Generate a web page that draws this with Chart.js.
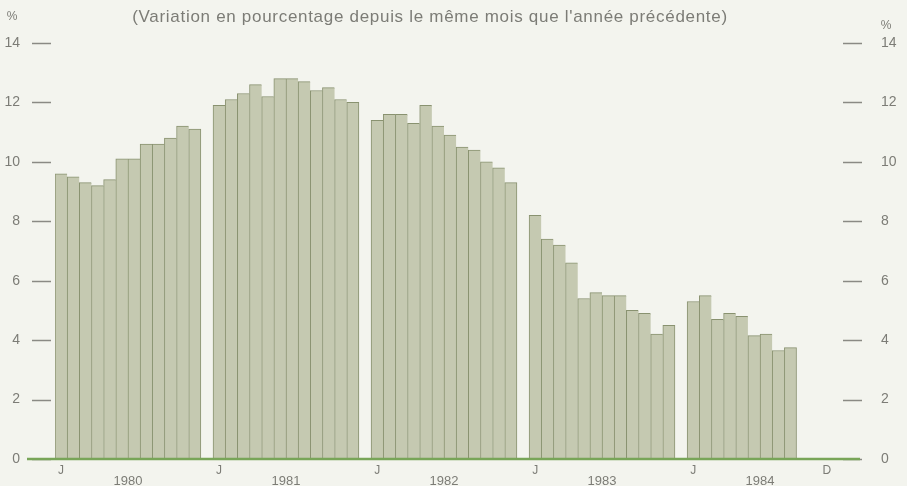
<!DOCTYPE html>
<html>
<head>
<meta charset="utf-8">
<script src="https://cdn.jsdelivr.net/npm/chart.js@4/dist/chart.umd.min.js"></script>
<style>
  body { margin: 0; background: #f3f4ee; }
  canvas { display: block; }
</style>
</head>
<body>
<canvas id="chart" width="907" height="486"></canvas>
<script>
// Data (percent change vs same month of previous year)
const years = ["1980", "1981", "1982", "1983", "1984"];
const monthLetters = ["J", "F", "M", "A", "M", "J", "J", "A", "S", "O", "N", "D"];
const values1980 = [9.6, 9.5, 9.3, 9.2, 9.4, 10.1, 10.1, 10.6, 10.6, 10.8, 11.2, 11.1];
const values1981 = [11.9, 12.1, 12.3, 12.6, 12.2, 12.8, 12.8, 12.7, 12.4, 12.5, 12.1, 12.0];
const values1982 = [11.4, 11.6, 11.6, 11.3, 11.9, 11.2, 10.9, 10.5, 10.4, 10.0, 9.8, 9.3];
const values1983 = [8.2, 7.4, 7.2, 6.6, 5.4, 5.6, 5.5, 5.5, 5.0, 4.9, 4.2, 4.5];
const values1984 = [5.3, 5.5, 4.7, 4.9, 4.8, 4.15, 4.2, 3.65, 3.75];
const yTicks = [0, 2, 4, 6, 8, 10, 12, 14];
const titleText = "(Variation en pourcentage depuis le même mois que l'année précédente)";

const yearValues = [values1980, values1981, values1982, values1983, values1984];

// one slot per month plus one empty slot between years
const labels = [];
const values = [];
const monthText = [];
const yearText = [];
years.forEach((yr, i) => {
  for (let m = 0; m < 12; m++) {
    labels.push(yr + " " + monthLetters[m]);
    const v = yearValues[i][m];
    values.push(v === undefined ? null : v);
    const last = i === years.length - 1;
    monthText.push(m === 0 || (last && m === 11) ? monthLetters[m] : "");
    yearText.push(m === 5 ? yr : "");
  }
  if (i < years.length - 1) {
    labels.push("");
    values.push(null);
    monthText.push("");
    yearText.push("");
  }
});

const TEXT = "#7c7c76";
const FONT = "'Liberation Sans', Arial, sans-serif";
const LEFT_W = 55;
const RIGHT_W = 74;
const slotW = (907 - LEFT_W - RIGHT_W) / labels.length;

const decor = {
  id: "decor",
  beforeDraw(chart) {
    const ctx = chart.ctx;
    ctx.save();
    ctx.fillStyle = "#f3f4ee";
    ctx.fillRect(0, 0, chart.width, chart.height);
    ctx.restore();
  },
  afterDatasetsDraw(chart) {
    const ctx = chart.ctx;
    const y = chart.scales.y;
    ctx.save();
    // tick dashes on both sides
    ctx.strokeStyle = "#8a8a84";
    ctx.lineWidth = 1.5;
    yTicks.forEach((t) => {
      const py = Math.round(y.getPixelForValue(t)) + 0.5;
      ctx.beginPath();
      ctx.moveTo(32, py);
      ctx.lineTo(51, py);
      ctx.moveTo(843, py);
      ctx.lineTo(862, py);
      ctx.stroke();
    });
    // green base line
    const y0 = y.getPixelForValue(0);
    ctx.strokeStyle = "#78a558";
    ctx.lineWidth = 2.5;
    ctx.beginPath();
    ctx.moveTo(27, y0);
    ctx.lineTo(860, y0);
    ctx.stroke();
    // title and % marks
    ctx.fillStyle = TEXT;
    ctx.textBaseline = "middle";
    ctx.textAlign = "center";
    ctx.font = "17px " + FONT;
    ctx.letterSpacing = "0.7px";
    ctx.fillText(titleText, 430, 17);
    ctx.letterSpacing = "0px";
    ctx.font = "12px " + FONT;
    ctx.fillText("%", 12, 17);
    ctx.fillText("%", 886, 26);
    ctx.restore();
  },
};

// y axes: fixed width, no extra layout padding from the label padding
const fitY = (w) => (s) => {
  s.width = w;
  s.paddingTop = 0;
  s.paddingBottom = 0;
};

new Chart(document.querySelector("#chart"), {
  type: "bar",
  data: {
    labels: labels,
    datasets: [
      {
        data: values,
        xAxisID: "x",
        yAxisID: "y",
        backgroundColor: "#c5c9b1",
        borderColor: "#899270",
        borderSkipped: false,
        borderWidth: (c) => ({
          left: 1,
          top: 1,
          bottom: 0,
          right: c.dataIndex % 13 === 11 || c.dataIndex === labels.length - 4 ? 1 : 0,
        }),
        categoryPercentage: 1,
        barPercentage: 1,
      },
    ],
  },
  options: {
    responsive: false,
    animation: false,
    layout: { padding: { top: 43, left: 0, right: 0, bottom: 0 } },
    plugins: {
      legend: { display: false },
      tooltip: { enabled: false },
    },
    scales: {
      x: {
        type: "category",
        position: "bottom",
        grid: { display: false, drawTicks: false },
        border: { display: false },
        ticks: {
          autoSkip: false,
          maxRotation: 0,
          minRotation: 0,
          padding: 4,
          color: TEXT,
          font: { size: 12, family: FONT },
          callback: (v, i) => monthText[i],
        },
        afterFit: (s) => { s.height = 15; },
      },
      x2: {
        type: "category",
        position: "bottom",
        grid: { display: false, drawTicks: false },
        border: { display: false },
        ticks: {
          autoSkip: false,
          maxRotation: 0,
          minRotation: 0,
          padding: 0,
          labelOffset: slotW / 2,
          color: TEXT,
          font: { size: 13, family: FONT },
          callback: (v, i) => yearText[i],
        },
        afterFit: (s) => { s.height = 12; },
      },
      y: {
        position: "left",
        min: 0,
        max: 14,
        grid: { display: false, drawTicks: false },
        border: { display: false },
        ticks: {
          stepSize: 2,
          padding: 35,
          color: TEXT,
          font: { size: 14, family: FONT },
        },
        afterFit: fitY(LEFT_W),
      },
      y2: {
        position: "right",
        min: 0,
        max: 14,
        grid: { display: false, drawTicks: false },
        border: { display: false },
        ticks: {
          stepSize: 2,
          padding: 48,
          color: TEXT,
          font: { size: 14, family: FONT },
        },
        afterFit: fitY(RIGHT_W),
      },
    },
  },
  plugins: [decor],
});
</script>
</body>
</html>
